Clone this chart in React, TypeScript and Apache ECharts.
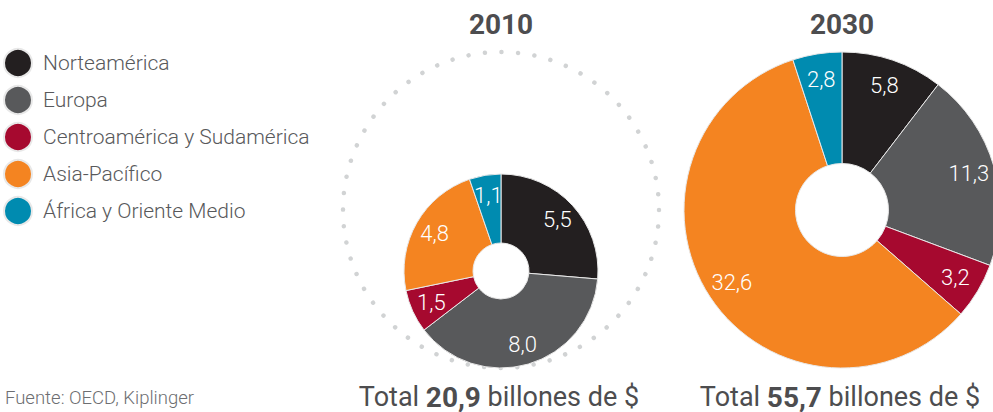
import React, { useEffect, useRef } from "react";
import * as echarts from "echarts";

const regions = ["Norteamérica", "Europa", "Centroamérica y Sudamérica", "Asia-Pacífico", "África y Oriente Medio"];
const colors = ["#231f20", "#58595b", "#a6092f", "#f48421", "#008bb0"];
const values2010 = [5.5, 8.0, 1.5, 4.8, 1.1];
const values2030 = [5.8, 11.3, 3.2, 32.6, 2.8];
const years = ["2010", "2030"];
const totals = ["20,9", "55,7"];
const source = "Fuente: OECD, Kiplinger";

const FONT = "Roboto, 'Noto Sans', sans-serif";
const fmt = (v: number) => v.toFixed(1).replace(".", ",");

export default function App() {
  const ref = useRef<HTMLDivElement>(null);
  useEffect(() => {
    document.body.style.margin = "0";
    if (!ref.current) return;
    const chart = echarts.init(ref.current, undefined, { renderer: "svg" });

    const mkData = (vals: number[], hidden: boolean) =>
      vals.map((v, i) => ({
        name: regions[i],
        value: v,
        itemStyle: hidden
          ? { color: "rgba(0,0,0,0)", borderWidth: 0 }
          : { color: colors[i], borderColor: "#e8e8e8", borderWidth: 1 },
      }));

    const mainPie = (vals: number[], center: number[], radius: number[]) => ({
      type: "pie",
      center,
      radius,
      startAngle: 90,
      clockwise: true,
      silent: true,
      avoidLabelOverlap: false,
      label: { show: false },
      labelLine: { show: false },
      data: mkData(vals, false),
    });
    const labelPie = (vals: number[], center: number[], radius: number[]) => ({
      type: "pie",
      center,
      radius,
      startAngle: 90,
      clockwise: true,
      silent: true,
      avoidLabelOverlap: false,
      legendHoverLink: false,
      label: {
        show: true,
        position: "inside",
        color: "#ffffff",
        fontFamily: FONT,
        fontWeight: 300,
        fontSize: 22,
        formatter: (p: any) => fmt(p.value),
      },
      labelLine: { show: false },
      data: mkData(vals, true),
    });

    const c1 = 501, c2 = 842, bigR = 158;
    const dotCount = 60;
    const dotGap = (2 * Math.PI * bigR) / dotCount;

    const totalText = (x: number, t: string) => ({
      type: "text",
      x,
      y: 397,
      style: {
        text: `{a|Total }{b|${t}}{a| billones de $}`,
        align: "center",
        verticalAlign: "middle",
        rich: {
          a: { fontFamily: FONT, fontSize: 27, fontWeight: 400, fill: "#4d4d4f", lineHeight: 26 },
          b: { fontFamily: FONT, fontSize: 28, fontWeight: "bold", fill: "#4d4d4f", lineHeight: 26 },
        },
      },
    });

    chart.setOption({
      animation: false,
      legend: {
        orient: "vertical",
        left: 3,
        top: 48,
        padding: 0,
        itemWidth: 28,
        itemHeight: 28,
        itemGap: 7,
        icon: "circle",
        selectedMode: false,
        textStyle: {
          fontFamily: FONT,
          fontSize: 21,
          fontWeight: 300,
          color: "#58595b",
          padding: [0, 0, 0, 6],
        },
        data: regions.map((r, i) => ({ name: r, itemStyle: { color: colors[i] } })),
      },
      graphic: [
        {
          type: "circle",
          silent: true,
          shape: { cx: c1, cy: 210, r: bigR },
          style: {
            fill: "none",
            stroke: "#d1d3d4",
            lineWidth: 4.5,
            lineCap: "round",
            lineDash: [0.01, dotGap - 0.01],
          },
          z: -1,
        },
        {
          type: "text",
          x: c1,
          y: 24,
          style: {
            text: years[0],
            align: "center",
            verticalAlign: "middle",
            fontFamily: FONT,
            fontSize: 28,
            fontWeight: "bold",
            fill: "#4d4d4f",
          },
        },
        {
          type: "text",
          x: c2,
          y: 24,
          style: {
            text: years[1],
            align: "center",
            verticalAlign: "middle",
            fontFamily: FONT,
            fontSize: 28,
            fontWeight: "bold",
            fill: "#4d4d4f",
          },
        },
        totalText(499, totals[0]),
        totalText(840, totals[1]),
        {
          type: "text",
          x: 5,
          y: 398,
          style: {
            text: source,
            align: "left",
            verticalAlign: "middle",
            fontFamily: FONT,
            fontSize: 18.5,
            fontWeight: 300,
            fill: "#6d6e71",
          },
        },
      ],
      series: [
        mainPie(values2010, [c1, 271], [28, 97]),
        mainPie(values2030, [c2, 210], [46.5, bigR]),
        labelPie(values2010, [c1, 271], [50, 97]),
        labelPie(values2030, [c2, 210], [100, bigR]),
      ],
    });
    return () => chart.dispose();
  }, []);
  return <div ref={ref} style={{ width: 993, height: 412 }} />;
}
